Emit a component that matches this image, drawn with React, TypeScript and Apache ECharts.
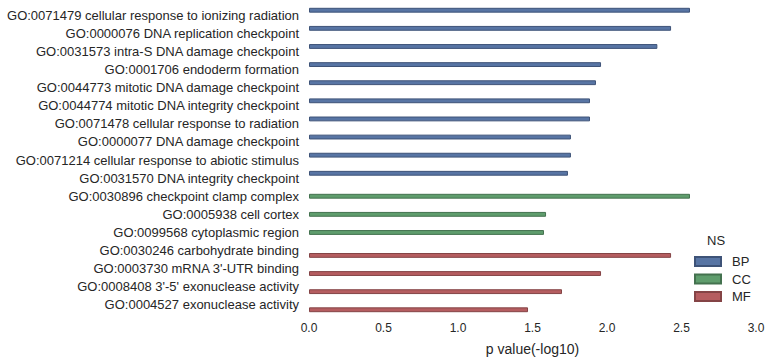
import React, { useEffect, useRef } from "react";
import * as echarts from "echarts";

const categories = [
  "GO:0071479 cellular response to ionizing radiation",
  "GO:0000076 DNA replication checkpoint",
  "GO:0031573 intra-S DNA damage checkpoint",
  "GO:0001706 endoderm formation",
  "GO:0044773 mitotic DNA damage checkpoint",
  "GO:0044774 mitotic DNA integrity checkpoint",
  "GO:0071478 cellular response to radiation",
  "GO:0000077 DNA damage checkpoint",
  "GO:0071214 cellular response to abiotic stimulus",
  "GO:0031570 DNA integrity checkpoint",
  "GO:0030896 checkpoint clamp complex",
  "GO:0005938 cell cortex",
  "GO:0099568 cytoplasmic region",
  "GO:0030246 carbohydrate binding",
  "GO:0003730 mRNA 3'-UTR binding",
  "GO:0008408 3'-5' exonuclease activity",
  "GO:0004527 exonuclease activity",
];

const namespaces = ["BP", "BP", "BP", "BP", "BP", "BP", "BP", "BP", "BP", "BP", "CC", "CC", "CC", "MF", "MF", "MF", "MF"];

const pValues = [2.557, 2.43, 2.338, 1.96, 1.926, 1.886, 1.886, 1.758, 1.758, 1.738, 2.557, 1.591, 1.577, 2.43, 1.96, 1.698, 1.47];

const groups = ["BP", "CC", "MF"];
const xTicks = { min: 0, max: 3, interval: 0.5 };

const fills: Record<string, string> = { BP: "#5875A4", CC: "#5F9D6D", MF: "#B55D60" };
const edges: Record<string, string> = { BP: "#3E5378", CC: "#44724F", MF: "#844446" };

export default function App() {
  const ref = useRef<HTMLDivElement>(null);
  useEffect(() => {
    if (!ref.current) return;
    const chart = echarts.init(ref.current, undefined, { renderer: "svg" });
    const font = "'Liberation Sans', Arial, sans-serif";
    const series = groups.map((g) => ({
      name: g,
      type: "bar" as const,
      barGap: "0%",
      barCategoryGap: "20%",
      data: pValues.map((v, i) => (namespaces[i] === g ? v : null)),
      itemStyle: { color: fills[g], borderColor: edges[g], borderWidth: 1 },
    }));
    chart.setOption({
      animation: false,
      backgroundColor: "#ffffff",
      textStyle: { fontFamily: font },
      grid: { left: 309, right: 15, top: 6, bottom: 48, containLabel: false },
      xAxis: {
        type: "value",
        min: xTicks.min,
        max: xTicks.max,
        interval: xTicks.interval,
        axisLine: { show: false },
        axisTick: { show: false },
        splitLine: { show: false },
        axisLabel: {
          color: "#262626",
          fontSize: 12,
          margin: 8,
          fontFamily: font,
          formatter: (v: number) => v.toFixed(1),
        },
        name: "p value(-log10)",
        nameLocation: "middle",
        nameGap: 28,
        nameTextStyle: { color: "#262626", fontSize: 14, fontFamily: font },
      },
      yAxis: {
        type: "category",
        data: categories,
        inverse: true,
        axisLine: { show: false },
        axisTick: { show: false },
        splitLine: { show: false },
        axisLabel: { color: "#262626", fontSize: 13, margin: 10, fontFamily: font },
      },
      legend: {
        data: groups,
        orient: "vertical",
        left: 689,
        top: 250,
        icon: "rect",
        itemWidth: 26,
        itemHeight: 9,
        itemGap: 4.5,
        textStyle: { color: "#262626", fontSize: 13, fontFamily: font, padding: [0, 0, 0, 6] },
      },
      graphic: [
        {
          type: "text",
          left: 707,
          top: 234,
          style: { text: "NS", fill: "#262626", font: `13px ${font}` },
        },
      ],
      series,
    });
    return () => chart.dispose();
  }, []);
  return (
    <div
      ref={ref}
      style={{ position: "fixed", left: 0, top: 0, width: 771, height: 362 }}
    />
  );
}
